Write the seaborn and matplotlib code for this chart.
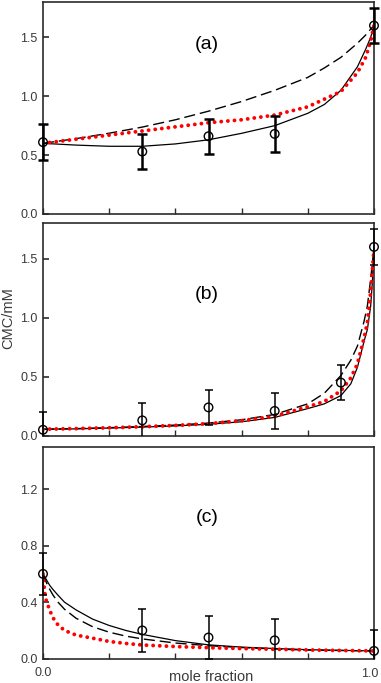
import matplotlib
matplotlib.use("Agg")
import matplotlib.pyplot as plt
from matplotlib.patches import Rectangle
import numpy as np
import pandas as pd
import seaborn as sns

# ---------------- data ----------------
# panel (a)
pts_x_a = [0.0, 0.3, 0.5, 0.7, 1.0]
pts_y_a = [0.61, 0.53, 0.66, 0.68, 1.60]
err_a = [0.15, 0.15, 0.15, 0.15, 0.15]
curve_x_a = [0.0, 0.1, 0.2, 0.3, 0.4, 0.5, 0.6, 0.7, 0.8, 0.85, 0.9, 0.95, 0.975, 0.99, 1.0]
solid_a = [0.60, 0.585, 0.575, 0.575, 0.595, 0.63, 0.685, 0.75, 0.855, 0.93, 1.05, 1.25, 1.40, 1.50, 1.60]
dashed_a = [0.60, 0.64, 0.686, 0.738, 0.80, 0.873, 0.955, 1.05, 1.16, 1.24, 1.33, 1.45, 1.52, 1.57, 1.60]
red_a = [0.60, 0.635, 0.67, 0.705, 0.74, 0.775, 0.80, 0.84, 0.91, 0.975, 1.04, 1.20, 1.33, 1.47, 1.60]

# panel (b)
pts_x_b = [0.0, 0.3, 0.5, 0.7, 0.9, 1.0]
pts_y_b = [0.05, 0.13, 0.24, 0.21, 0.45, 1.60]
err_b = [0.15, 0.15, 0.15, 0.15, 0.15, 0.15]
curve_x_b = [0.0, 0.1, 0.2, 0.3, 0.4, 0.5, 0.6, 0.7, 0.8, 0.85, 0.9, 0.93, 0.95, 0.97, 0.98, 0.99, 0.995, 1.0]
solid_b = [0.055, 0.058, 0.065, 0.073, 0.083, 0.097, 0.118, 0.155, 0.23, 0.27, 0.34, 0.44, 0.58, 0.80, 0.90, 1.10, 1.30, 1.60]
dashed_b = [0.055, 0.06, 0.068, 0.078, 0.09, 0.107, 0.135, 0.18, 0.27, 0.36, 0.51, 0.64, 0.76, 0.97, 1.10, 1.33, 1.46, 1.60]
red_b = [0.055, 0.06, 0.067, 0.076, 0.087, 0.102, 0.127, 0.165, 0.245, 0.29, 0.38, 0.49, 0.61, 0.83, 0.96, 1.22, 1.40, 1.58]

# panel (c)
pts_x_c = [0.0, 0.3, 0.5, 0.7, 1.0]
pts_y_c = [0.60, 0.20, 0.15, 0.13, 0.055]
err_c = [0.15, 0.15, 0.15, 0.15, 0.15]
curve_x_c = [0.0, 0.005, 0.01, 0.02, 0.03, 0.045, 0.065, 0.1, 0.15, 0.2, 0.25, 0.3, 0.4, 0.5, 0.6, 0.7, 0.8, 0.9, 1.0]
solid_c = [0.60, 0.58, 0.56, 0.52, 0.49, 0.45, 0.40, 0.345, 0.28, 0.235, 0.20, 0.172, 0.128, 0.098, 0.082, 0.072, 0.064, 0.059, 0.055]
dashed_c = [0.60, 0.569, 0.54, 0.492, 0.451, 0.401, 0.35, 0.286, 0.226, 0.1875, 0.16, 0.14, 0.111, 0.092, 0.079, 0.069, 0.061, 0.058, 0.055]
red_c = [0.60, 0.47, 0.41, 0.345, 0.29, 0.24, 0.20, 0.167, 0.145, 0.122, 0.108, 0.097, 0.086, 0.078, 0.072, 0.067, 0.062, 0.058, 0.055]

panel_labels = ["(a)", "(b)", "(c)"]
y_ticks_ab = [0.0, 0.5, 1.0, 1.5]
y_ticks_c = [0.0, 0.4, 0.8, 1.2]
x_ticks = [0.0, 0.2, 0.4, 0.6, 0.8, 1.0]
x_ticklabels_bottom = ["0.0", "", "", "", "", ""]
x_end_label = "1.0"

# ---------------- style ----------------
sns.set_style("ticks")
plt.rcParams["font.family"] = ["Liberation Sans", "DejaVu Sans"]

SPINE = "#2b2b2b"
TXT = "#3a3a3a"

fig = plt.figure(figsize=(3.81, 6.83), dpi=100)
W, H = 381, 683
left_px, right_px = 43, 374

def make_ax(top_px, bot_px):
    return fig.add_axes([left_px / W, 1 - bot_px / H, (right_px - left_px) / W, (bot_px - top_px) / H])

ax_a = make_ax(2, 214)
ax_b = make_ax(223.3, 435.7)
ax_c = make_ax(446.7, 658.7)

panels = [
    (ax_a, pts_x_a, pts_y_a, err_a, curve_x_a, solid_a, dashed_a, red_a, (0, 1.8), y_ticks_ab, 1.8, 3.3, 0.80),
    (ax_b, pts_x_b, pts_y_b, err_b, curve_x_b, solid_b, dashed_b, red_b, (0, 1.8), y_ticks_ab, 1.1, 2.6, 0.665),
    (ax_c, pts_x_c, pts_y_c, err_c, curve_x_c, solid_c, dashed_c, red_c, (0, 1.5), y_ticks_c, 1.1, 2.6, 0.665),
]

for i, (ax, px, py, pe, cx, s, d, r, ylim, yt, elw, cap, ly) in enumerate(panels):
    df = pd.DataFrame({"x": cx, "solid": s, "dashed": d, "red": r})
    sns.lineplot(data=df, x="x", y="solid", ax=ax, color="black", linewidth=0.9,
                 sort=False, estimator=None, zorder=3)
    sns.lineplot(data=df, x="x", y="dashed", ax=ax, color="black", linewidth=1.0,
                 linestyle=(0, (8, 3.5)), sort=False, estimator=None, zorder=3)
    sns.lineplot(data=df, x="x", y="red", ax=ax, color="#ff0000", linewidth=2.8,
                 linestyle=(0, (0.01, 1.7)), dash_capstyle="round",
                 sort=False, estimator=None, zorder=4)
    eb = ax.errorbar(px, py, yerr=pe, fmt="none", ecolor="black", elinewidth=elw,
                     capsize=cap, capthick=elw, zorder=5)
    # clip error bars at the x axis (y=0) but let them spill sideways past the spines
    clip_rect = Rectangle((-0.05, 0.0), 1.1, 1.2, transform=ax.transAxes,
                          facecolor="none", edgecolor="none")
    for art in list(eb.lines[1]) + list(eb.lines[2]):
        art.set_clip_on(True)
        art.set_clip_path(clip_rect)
    pdf = pd.DataFrame({"x": px, "y": py})
    sns.scatterplot(data=pdf, x="x", y="y", ax=ax, marker="o", s=38,
                    facecolors="none", edgecolor="black", linewidth=1.0,
                    zorder=6, clip_on=False)

    ax.set_xlim(0, 1)
    ax.set_ylim(*ylim)
    ax.set_yticks(yt)
    ax.set_yticklabels([f"{v:.1f}" for v in yt])
    ax.set_xticks(x_ticks)
    ax.set_xlabel("")
    ax.set_ylabel("")
    for sp in ax.spines.values():
        sp.set_visible(True)
        sp.set_color(SPINE)
        sp.set_linewidth(1.2)
    ax.tick_params(axis="y", direction="in", length=4.5, width=1.2, color=SPINE,
                   labelsize=9, labelcolor=TXT, pad=4)
    ax.tick_params(axis="x", direction="in", length=4, width=1.0, color=SPINE,
                   labelsize=9, labelcolor=TXT, pad=6)
    ax.text(0.495, ly, panel_labels[i], transform=ax.transAxes, ha="center",
            va="center", fontsize=14, color="black")
    if ax is ax_c:
        ax.set_xticklabels(x_ticklabels_bottom)
    else:
        ax.set_xticklabels([""] * len(x_ticks))

# end label "1.0", nudged left so it stays inside the figure
ax_c.text(0.986, -0.072, x_end_label, transform=ax_c.transAxes, ha="center",
          va="center", fontsize=9, color=TXT)

ax_c.set_xlabel("mole fraction", fontsize=10.5, color=TXT, va="center")
ax_c.xaxis.set_label_coords(0.508, -0.085)

ax_b.set_ylabel("CMC/mM", fontsize=10.5, color=TXT, va="center")
ax_b.yaxis.set_label_coords(-0.105, 0.554)

fig.savefig("out.png", dpi=100)
